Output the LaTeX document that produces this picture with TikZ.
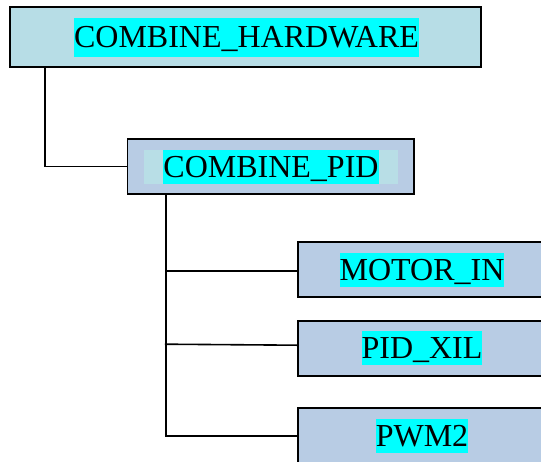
\documentclass[tikz,border=0pt]{standalone}
\usepackage{fontspec}
\setmainfont{Liberation Serif}
\usetikzlibrary{calc}
\definecolor{hwfill}{HTML}{B7DDE6}
\definecolor{boxfill}{HTML}{B8CCE4}
\definecolor{bandfill}{HTML}{B8DEE6}
\definecolor{hl}{HTML}{00FFFF}
\tikzset{
  box/.style={draw=black, line width=1.7pt, rectangle, inner sep=0pt, minimum height=55pt},
  lbl/.style={fill=hl, inner sep=0pt, font=\fontsize{32}{36}\selectfont, text height=27.5pt, text depth=6.5pt},
  conn/.style={line width=1.6pt, line cap=rect}
}
\begin{document}
\begin{tikzpicture}[x=1pt,y=-1pt]
\useasboundingbox (0,0) rectangle (541,461);
\clip (0,0) rectangle (541,461);
% top box
\node[box, fill=hwfill, minimum width=471pt, minimum height=60pt] (hw) at (245.8,37) {};
\node[lbl, text height=29.5pt, text depth=9.5pt] (hwt) at (246.5,37.3) {COMBINE\_HARDWARE};
% PID box
\node[box, fill=boxfill, minimum width=286.7pt] (pid) at (270.7,166.5) {};
\node[fill=bandfill, inner sep=0pt, minimum width=254pt, minimum height=34pt] (pidband) at (271,167) {};
\node[lbl] (pidt) at (271,167) {COMBINE\_PID};
% children
\node[box, fill=boxfill, minimum width=248pt] (motor) at (422,269.2) {};
\node[lbl] (motort) at (422,269.7) {MOTOR\_IN};
\node[box, fill=boxfill, minimum width=248pt] (xil) at (422,348.2) {};
\node[lbl] (xilt) at (422,348) {PID\_XIL};
\node[box, fill=boxfill, minimum width=248pt] (pwm) at (422,435.8) {};
\node[lbl] (pwmt) at (422,436) {PWM2};
% connectors
\coordinate (hwdrop) at (45,67);
\draw[conn] (hwdrop) |- (pid.west);
\coordinate (trunk) at (165.7,194);
\draw[conn] (trunk) |- (pwm.west);
\coordinate (motorin) at ([yshift=-2pt]motor.west);
\coordinate (xilin) at ([yshift=3pt]xil.west);
\coordinate (xilout) at ([yshift=4pt]xil.west -| trunk);
\draw[conn] (trunk |- motorin) -- (motorin);
\draw[conn] (xilout) -- (xilin);
\end{tikzpicture}
\end{document}
